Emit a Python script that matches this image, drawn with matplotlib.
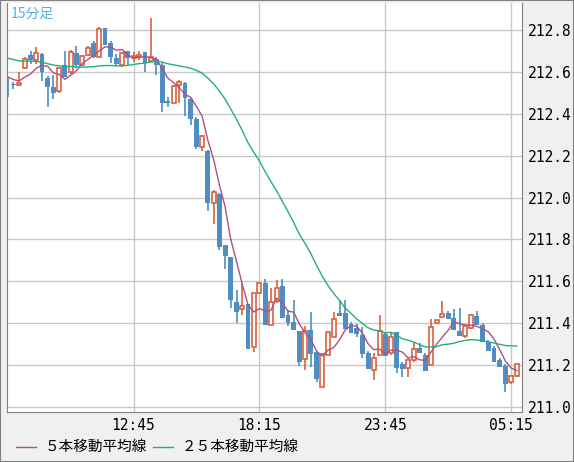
import matplotlib.pyplot as plt
import numpy as np
import pandas as pd

# 15-minute candles, 07:15 .. 05:30
opens = [212.552, 212.543, 212.538, 212.62, 212.68, 212.655, 212.686, 212.571, 212.528, 212.509,
         212.633, 212.60, 212.691, 212.633, 212.681, 212.738, 212.672, 212.810, 212.738, 212.667,
         212.633, 212.700, 212.667, 212.671, 212.695, 212.652, 212.662, 212.633, 212.461, 212.452,
         212.537, 212.547, 212.471, 212.375, 212.242, 212.223, 211.974, 212.017, 211.774, 211.716,
         211.501, 211.468, 211.492, 211.287, 211.544, 211.592, 211.392, 211.506, 211.578, 211.439,
         211.406, 211.363, 211.229, 211.368, 211.263, 211.096, 211.248, 211.334, 211.449, 211.449,
         211.396, 211.377, 211.344, 211.258, 211.177, 211.248, 211.349, 211.258, 211.358, 211.205,
         211.186, 211.224, 211.282, 211.248, 211.201, 211.401, 211.430, 211.449, 211.425, 211.363,
         211.339, 211.377, 211.435, 211.392, 211.310, 211.282, 211.224, 211.196, 211.119, 211.148]
highs = [212.57, 212.55, 212.60, 212.67, 212.70, 212.72, 212.69, 212.58, 212.586, 212.62,
         212.70, 212.705, 212.724, 212.681, 212.724, 212.748, 212.815, 212.810, 212.748, 212.686,
         212.695, 212.700, 212.695, 212.700, 212.695, 212.858, 212.672, 212.643, 212.481, 212.538,
         212.562, 212.552, 212.476, 212.385, 212.299, 212.227, 212.036, 212.022, 211.774, 211.716,
         211.559, 211.592, 211.492, 211.544, 211.592, 211.611, 211.568, 211.607, 211.611, 211.463,
         211.511, 211.363, 211.387, 211.454, 211.263, 211.253, 211.363, 211.454, 211.511, 211.511,
         211.406, 211.396, 211.382, 211.267, 211.258, 211.439, 211.358, 211.358, 211.358, 211.215,
         211.234, 211.306, 211.306, 211.258, 211.420, 211.416, 211.506, 211.458, 211.468, 211.473,
         211.392, 211.444, 211.458, 211.401, 211.320, 211.290, 211.234, 211.205, 211.148, 211.210]
lows = [212.48, 212.52, 212.535, 212.615, 212.64, 212.64, 212.557, 212.433, 212.471, 212.50,
        212.576, 212.59, 212.619, 212.629, 212.676, 212.667, 212.672, 212.729, 212.643, 212.629,
        212.624, 212.629, 212.648, 212.657, 212.600, 212.648, 212.586, 212.409, 212.433, 212.452,
        212.452, 212.390, 212.347, 212.232, 212.223, 211.936, 211.874, 211.750, 211.659, 211.473,
        211.401, 211.439, 211.277, 211.263, 211.544, 211.392, 211.392, 211.497, 211.425, 211.387,
        211.368, 211.196, 211.177, 211.191, 211.119, 211.096, 211.248, 211.334, 211.435, 211.373,
        211.353, 211.334, 211.234, 211.181, 211.129, 211.248, 211.244, 211.248, 211.162, 211.143,
        211.143, 211.215, 211.258, 211.172, 211.201, 211.396, 211.430, 211.420, 211.368, 211.339,
        211.330, 211.373, 211.392, 211.310, 211.267, 211.215, 211.191, 211.072, 211.110, 211.143]
closes = [212.550, 212.538, 212.547, 212.66, 212.655, 212.69, 212.60, 212.528, 212.50, 212.619,
          212.576, 212.695, 212.633, 212.676, 212.715, 212.672, 212.805, 212.729, 212.672, 212.638,
          212.691, 212.667, 212.676, 212.681, 212.643, 212.671, 212.633, 212.452, 212.452, 212.533,
          212.552, 212.476, 212.375, 212.242, 212.294, 211.974, 212.027, 211.764, 211.721, 211.511,
          211.454, 211.482, 211.277, 211.544, 211.592, 211.392, 211.501, 211.568, 211.425, 211.401,
          211.368, 211.215, 211.363, 211.253, 211.134, 211.253, 211.358, 211.420, 211.435, 211.373,
          211.353, 211.349, 211.253, 211.181, 211.234, 211.363, 211.244, 211.334, 211.186, 211.181,
          211.224, 211.277, 211.258, 211.172, 211.382, 211.416, 211.444, 211.420, 211.368, 211.339,
          211.387, 211.439, 211.392, 211.310, 211.267, 211.215, 211.191, 211.110, 211.148, 211.205]
# closes before the visible window, for the moving averages
prev_closes = [212.70, 212.72, 212.68, 212.66, 212.70, 212.73, 212.69, 212.67, 212.70, 212.68,
               212.66, 212.69, 212.71, 212.68, 212.66, 212.70, 212.69, 212.67, 212.68, 212.69,
               212.60, 212.58, 212.57, 212.58]

tick_pos = [22, 44, 66, 88]
tick_labels = ['12:45', '18:15', '23:45', '05:15']
y_ticks = [211.0, 211.2, 211.4, 211.6, 211.8, 212.0, 212.2, 212.4, 212.6, 212.8]

up_col = '#d9623f'
down_col = '#4f8dc2'

allc = pd.Series(prev_closes + closes)
ma5 = allc.rolling(5).mean().values[len(prev_closes):]
ma25 = allc.rolling(25).mean().values[len(prev_closes):]

fig = plt.figure(figsize=(5.74, 4.62), dpi=100, facecolor='#f0f0f0')
ax = fig.add_axes([7/574, 50/462, 515/574, 409/462])
ax.set_facecolor('white')

x = np.arange(len(closes))
for i in x:
    o, h, l, c = opens[i], highs[i], lows[i], closes[i]
    col = up_col if c > o else down_col
    ax.vlines(i, l, h, color=col, lw=1.2, zorder=2)
    if c > o:
        ax.bar(i, c - o, bottom=o, width=0.7, facecolor='white', edgecolor=col, lw=1.2, zorder=3)
    else:
        ax.bar(i, max(o - c, 0.002), bottom=c, width=0.85, color=col, lw=0, zorder=3)

ax.plot(x, ma5, color='#b0507f', lw=1, zorder=4)
ax.plot(x, ma25, color='#22b07a', lw=1, zorder=4)

ax.set_xlim(-0.12, 89.9)
ax.set_ylim(210.976, 212.929)
ax.set_xticks(tick_pos)
ax.set_xticklabels(tick_labels, fontfamily='DejaVu Sans Mono', fontsize=10.5)
ax.set_yticks(y_ticks)
ax.set_yticklabels([f'{v:.1f}' for v in y_ticks], fontfamily='DejaVu Sans Mono', fontsize=10.5)
ax.yaxis.tick_right()
ax.tick_params(length=0, pad=4)
ax.grid(color='#c8c8c8', lw=1)
ax.set_axisbelow(True)
ax.spines['top'].set_visible(False)
for s in ['left', 'bottom', 'right']:
    ax.spines[s].set_color('#808080')

jp = ['Noto Sans CJK JP', 'DejaVu Sans']
ax.text(0.008, 0.99, '15分足', transform=ax.transAxes, ha='left', va='top',
        color='#4ab4e6', fontsize=10, fontfamily=jp)

fig.add_artist(plt.Line2D([16/574, 36/574], [15/462, 15/462], color='#b0507f', lw=1))
fig.text(45/574, 15/462, '５本移動平均線', va='center', fontsize=10.5, fontfamily=jp)
fig.add_artist(plt.Line2D([153/574, 173/574], [15/462, 15/462], color='#22b07a', lw=1))
fig.text(182/574, 15/462, '２５本移動平均線', va='center', fontsize=10.5, fontfamily=jp)

# outer border
fig.add_artist(plt.Rectangle((0, 0), 1, 1, transform=fig.transFigure, fill=False,
                             edgecolor='#808080', lw=1.5))

fig.savefig('out.png', dpi=100, facecolor=fig.get_facecolor())
